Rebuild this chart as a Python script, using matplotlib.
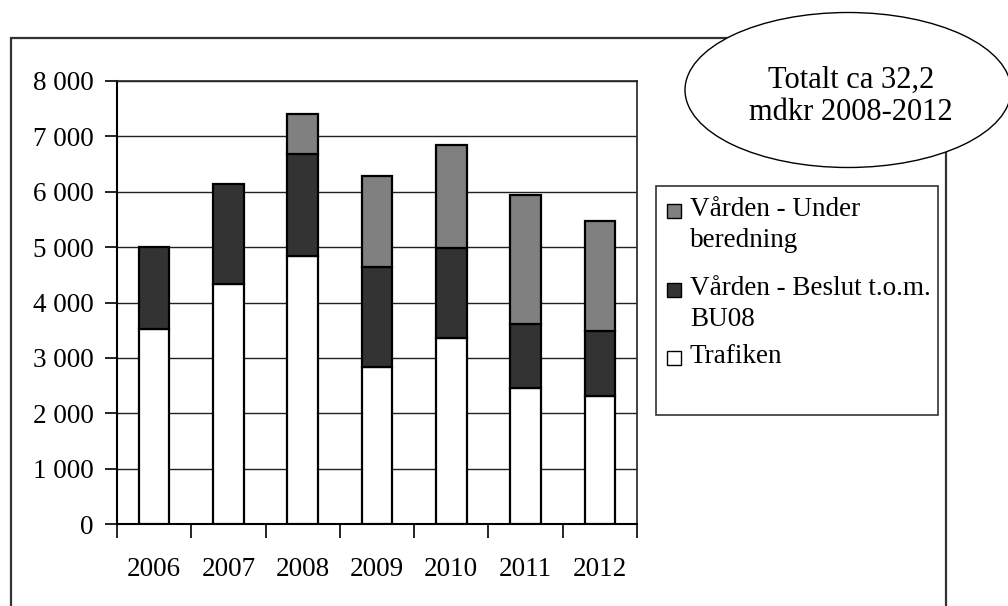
import matplotlib
matplotlib.use("Agg")
import matplotlib.pyplot as plt
from matplotlib.patches import Ellipse, Rectangle
from matplotlib.ticker import FuncFormatter
import numpy as np

plt.rcParams['font.family'] = ['Liberation Serif', 'DejaVu Serif']

years = ['2006', '2007', '2008', '2009', '2010', '2011', '2012']
trafiken = [3520, 4330, 4840, 2830, 3360, 2450, 2310]
beslut = [1480, 1810, 1840, 1810, 1620, 1160, 1170]
under_beredning = [0, 0, 720, 1640, 1860, 2330, 1990]

series_names = ['Vården - Under\nberedning', 'Vården - Beslut t.o.m.\nBU08', 'Trafiken']
series_colors = ['#808080', '#333333', '#ffffff']

W, H = 1008, 606
fig = plt.figure(figsize=(W / 100, H / 100), dpi=100)

# outer chart frame (runs off the bottom of the picture)
frame = Rectangle((11 / W, -0.05), (946 - 11) / W, 1.05 - 38 / H,
                  transform=fig.transFigure, fill=False,
                  edgecolor='#333333', linewidth=1.6, zorder=0)
fig.patches.append(frame)

ax = fig.add_axes([117 / W, 1 - 524 / H, (637 - 117) / W, (524 - 81) / H])

x = np.arange(len(years))
bw = 0.41
bottom2 = np.array(trafiken)
bottom3 = bottom2 + np.array(beslut)
ax.bar(x, trafiken, bw, color=series_colors[2], edgecolor='black', linewidth=1.6, zorder=3)
ax.bar(x, beslut, bw, bottom=bottom2, color=series_colors[1], edgecolor='black', linewidth=1.6, zorder=3)
mask = np.array(under_beredning) > 0
ax.bar(x[mask], np.array(under_beredning)[mask], bw, bottom=bottom3[mask],
       color=series_colors[0], edgecolor='black', linewidth=1.6, zorder=3)

ax.set_xlim(-0.5, len(years) - 0.5)
ax.set_ylim(0, 8000)
ax.set_yticks(range(0, 8001, 1000))
ax.yaxis.set_major_formatter(FuncFormatter(lambda v, p: f"{v:,.0f}".replace(",", " ")))
ax.set_xticks(x)
ax.set_xticklabels(years)
ax.set_xticks(np.arange(-0.5, len(years), 1), minor=True)
ax.tick_params(axis='x', which='major', length=0, pad=24, labelsize=19.5)
ax.tick_params(axis='x', which='minor', length=10, width=1.2, direction='out')
ax.tick_params(axis='y', length=9, width=1.2, direction='out', pad=8, labelsize=19.5)
ax.grid(axis='y', color='#222222', linewidth=1.0, zorder=0)
ax.set_axisbelow(True)
for side in ['left', 'bottom']:
    ax.spines[side].set_linewidth(1.5)
for side in ['top', 'right']:
    ax.spines[side].set_linewidth(1.2)
    ax.spines[side].set_color('#222222')

# legend box drawn by hand to match the wrapped labels
leg_box = Rectangle((656 / W, 1 - 415 / H), (938 - 656) / W, (415 - 186) / H,
                    transform=fig.transFigure, facecolor='white',
                    edgecolor='#333333', linewidth=1.2, zorder=2)
fig.patches.append(leg_box)
baselines = [218, 297, 365]
for name, col, base in zip(series_names, series_colors, baselines):
    sq = Rectangle((667 / W, 1 - base / H), 14 / W, 14 / H,
                   transform=fig.transFigure, facecolor=col,
                   edgecolor='black', linewidth=1.0, zorder=3)
    fig.patches.append(sq)
    fig.text(690 / W, 1 - (base - 21) / H, name, fontsize=19.5,
             va='top', ha='left', linespacing=1.32)

# callout ellipse
ell = Ellipse((848 / W, 1 - 90 / H), 326 / W, 155 / H,
              transform=fig.transFigure, facecolor='white',
              edgecolor='black', linewidth=1.0, zorder=5)
fig.patches.append(ell)
fig.text(851 / W, 1 - 96 / H, 'Totalt ca 32,2\nmdkr 2008-2012', fontsize=22,
         ha='center', va='center', linespacing=1.15, zorder=6)

fig.savefig('out.png', dpi=100)
